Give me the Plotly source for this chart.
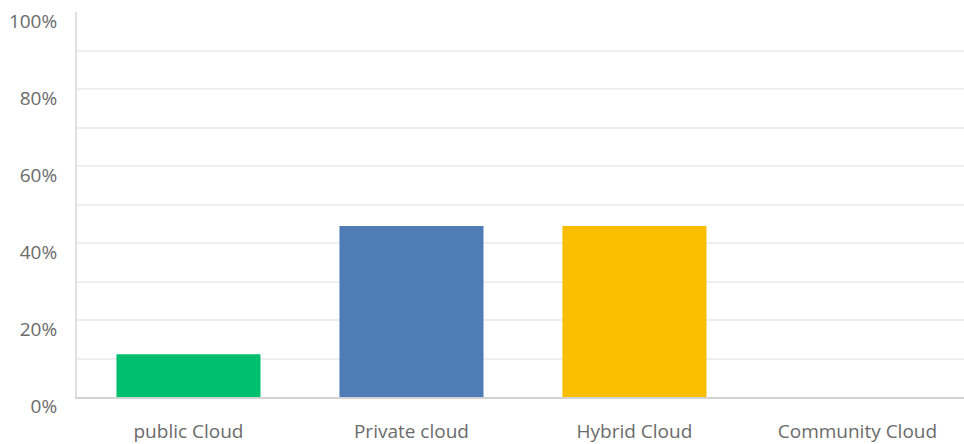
import plotly.graph_objects as go

# Survey response shares by cloud deployment model
categories = ["public Cloud", "Private cloud", "Hybrid Cloud", "Community Cloud"]
shares = [11.11, 44.44, 44.44, 0.0]
bar_colors = ["#00bf6f", "#507cb6", "#f9be00", "#a0a0a0"]
y_tick_values = [0, 20, 40, 60, 80, 100]
y_tick_labels = ["0%", "20%", "40%", "60%", "80%", "100%"]
grid_values = [10, 20, 30, 40, 50, 60, 70, 80, 90]

font_family = "Open Sans, sans-serif"
text_color = "#6b6b6b"

fig = go.Figure(
    go.Bar(
        x=categories,
        y=shares,
        marker=dict(color=bar_colors, line=dict(width=0)),
        hovertemplate="%{x}: %{y:.2f}%<extra></extra>",
    )
)

fig.update_layout(
    width=964,
    height=444,
    margin=dict(l=77, r=0, t=12, b=47),
    plot_bgcolor="white",
    paper_bgcolor="white",
    bargap=0.354,
    showlegend=False,
    font=dict(family=font_family, size=19, color=text_color),
)

fig.update_xaxes(
    range=[-0.5, 3.478],
    showgrid=False,
    showline=True,
    linecolor="#d3d3d3",
    linewidth=2,
    ticks="",
    ticklabelstandoff=16,
    tickfont=dict(size=19, color=text_color),
)

fig.update_yaxes(
    range=[0, 100],
    tickvals=y_tick_values,
    ticktext=y_tick_labels,
    showgrid=False,
    zeroline=False,
    showline=True,
    linecolor="#e0e0e0",
    linewidth=2,
    ticks="",
    ticklabelstandoff=14,
    ticklabelshift=9,
    tickfont=dict(size=19, color=text_color),
    minor=dict(tickvals=grid_values, showgrid=True, gridcolor="#efefef", gridwidth=2),
)

fig.write_html("out.html")
